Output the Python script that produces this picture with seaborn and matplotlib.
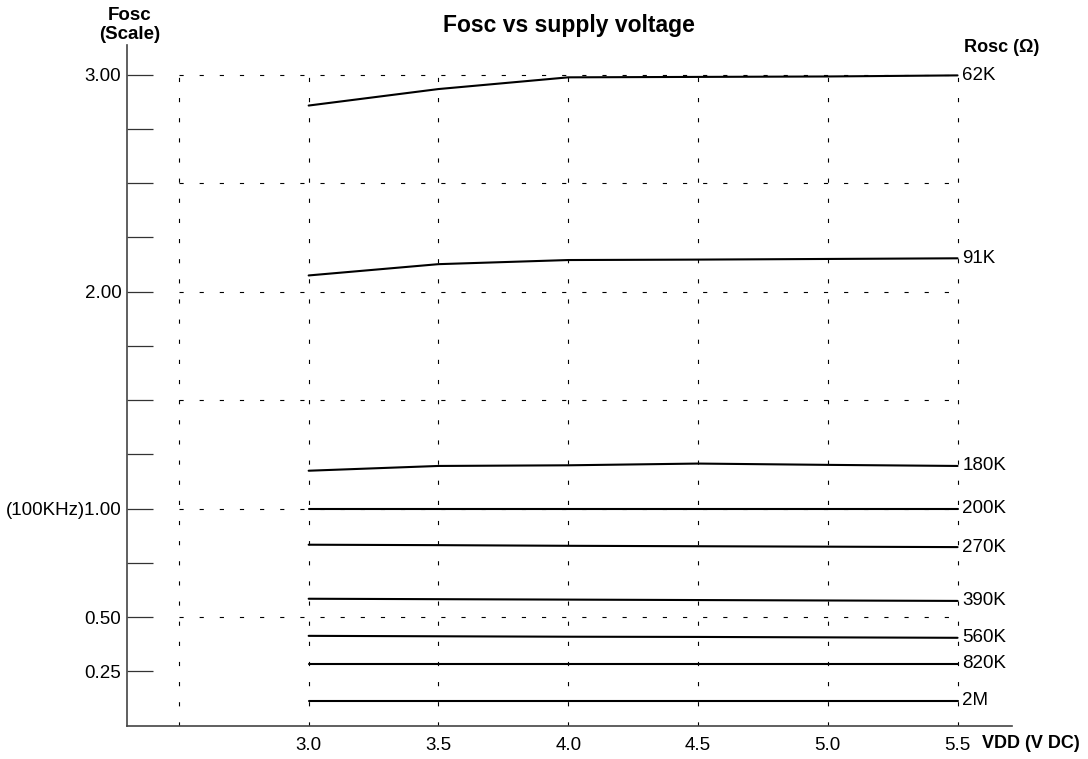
import numpy as np
import pandas as pd
import matplotlib
matplotlib.use('Agg')
import matplotlib.pyplot as plt
import seaborn as sns

# Supply voltage points (V DC)
vdd = [3.0, 3.5, 4.0, 4.5, 5.0, 5.5]

# Fosc (scale, 1.00 = 100KHz) for each Rosc
rosc_labels = ['62K', '91K', '180K', '200K', '270K', '390K', '560K', '820K', '2M']
fosc_62k = [2.858, 2.934, 2.988, 2.990, 2.992, 2.997]
fosc_91k = [2.075, 2.127, 2.146, 2.148, 2.151, 2.154]
fosc_180k = [1.175, 1.197, 1.200, 1.208, 1.202, 1.197]
fosc_200k = [1.000, 1.000, 1.000, 1.000, 1.000, 1.000]
fosc_270k = [0.834, 0.832, 0.829, 0.827, 0.825, 0.823]
fosc_390k = [0.585, 0.583, 0.581, 0.579, 0.577, 0.575]
fosc_560k = [0.414, 0.412, 0.410, 0.409, 0.407, 0.405]
fosc_820k = [0.285, 0.285, 0.285, 0.285, 0.285, 0.285]
fosc_2m = [0.114, 0.114, 0.114, 0.114, 0.114, 0.114]
all_series = [fosc_62k, fosc_91k, fosc_180k, fosc_200k, fosc_270k,
              fosc_390k, fosc_560k, fosc_820k, fosc_2m]

# Axis ticks / labels
xtick_vals = [3.0, 3.5, 4.0, 4.5, 5.0, 5.5]
xtick_labels = ['3.0', '3.5', '4.0', '4.5', '5.0', '5.5']
ytick_vals = [0.25, 0.5, 0.75, 1.0, 1.25, 1.5, 1.75, 2.0, 2.25, 2.5, 2.75, 3.0]
ytick_labels = ['0.25', '0.50', '', '(100KHz)1.00', '', '', '', '2.00', '', '', '', '3.00']
grid_x = [2.5, 3.0, 3.5, 4.0, 4.5, 5.0, 5.5]
grid_y = [0.5, 1.0, 1.5, 2.0, 2.5, 3.0]

sns.set_style('white')
plt.rcParams['font.family'] = ['Liberation Sans', 'DejaVu Sans']
plt.rcParams['lines.scale_dashes'] = False

fig = plt.figure(figsize=(10.88, 7.59), dpi=100)
ax = fig.add_axes([0.1167, 0.0439, 0.8135, 0.8968])

# dashed grid confined to the data box
ax.hlines(grid_y, grid_x[0], grid_x[-1], colors='black', linewidth=0.8,
          linestyles=(0, (3, 11.5)), zorder=1)
ax.vlines(grid_x, 0, grid_y[-1], colors='black', linewidth=0.8,
          linestyles=(0, (3, 11.5)), zorder=1)

df = pd.DataFrame({
    'vdd': vdd * len(rosc_labels),
    'fosc': np.concatenate(all_series),
    'rosc': np.repeat(rosc_labels, len(vdd)),
})
sns.lineplot(data=df, x='vdd', y='fosc', hue='rosc', hue_order=rosc_labels,
             palette=['black'] * len(rosc_labels), linewidth=1.5,
             legend=False, ax=ax, zorder=3)

for lab, vals in zip(rosc_labels, all_series):
    ax.annotate(lab, (vdd[-1], vals[-1]), xytext=(3.5, 0), textcoords='offset points',
                va='center', ha='left', fontsize=13.5, color='black')

ax.set_xlim(2.3, 5.71)
ax.set_ylim(0, 3.137)
ax.set_xticks(xtick_vals)
ax.set_xticklabels(xtick_labels, fontsize=13.5)
ax.set_yticks(ytick_vals)
ax.set_yticklabels(ytick_labels, fontsize=13.5)
ax.tick_params(axis='x', bottom=False, length=0, pad=8, labelcolor='black')
ax.tick_params(axis='y', left=True, direction='in', length=19, width=0.9,
               color='#333333', pad=4, labelcolor='black')
ax.set_xlabel('')
ax.set_ylabel('')

for side in ['top', 'right']:
    ax.spines[side].set_visible(False)
for side in ['left', 'bottom']:
    ax.spines[side].set_color('#444444')
    ax.spines[side].set_linewidth(1.2)

fig.text(0.523, 0.967, 'Fosc vs supply voltage', ha='center', va='center',
         fontsize=16.5, fontweight='bold', color='black')
fig.text(0.1195, 0.967, 'Fosc\n(Scale)', ha='center', va='center',
         fontsize=13.5, fontweight='bold', linespacing=1.1, color='black')
fig.text(0.886, 0.938, 'Rosc (Ω)', ha='left', va='center',
         fontsize=13, fontweight='bold', color='black')
fig.text(0.903, 0.021, 'VDD (V DC)', ha='left', va='center',
         fontsize=13, fontweight='bold', color='black')

plt.savefig('out.png', dpi=100)
plt.close()
